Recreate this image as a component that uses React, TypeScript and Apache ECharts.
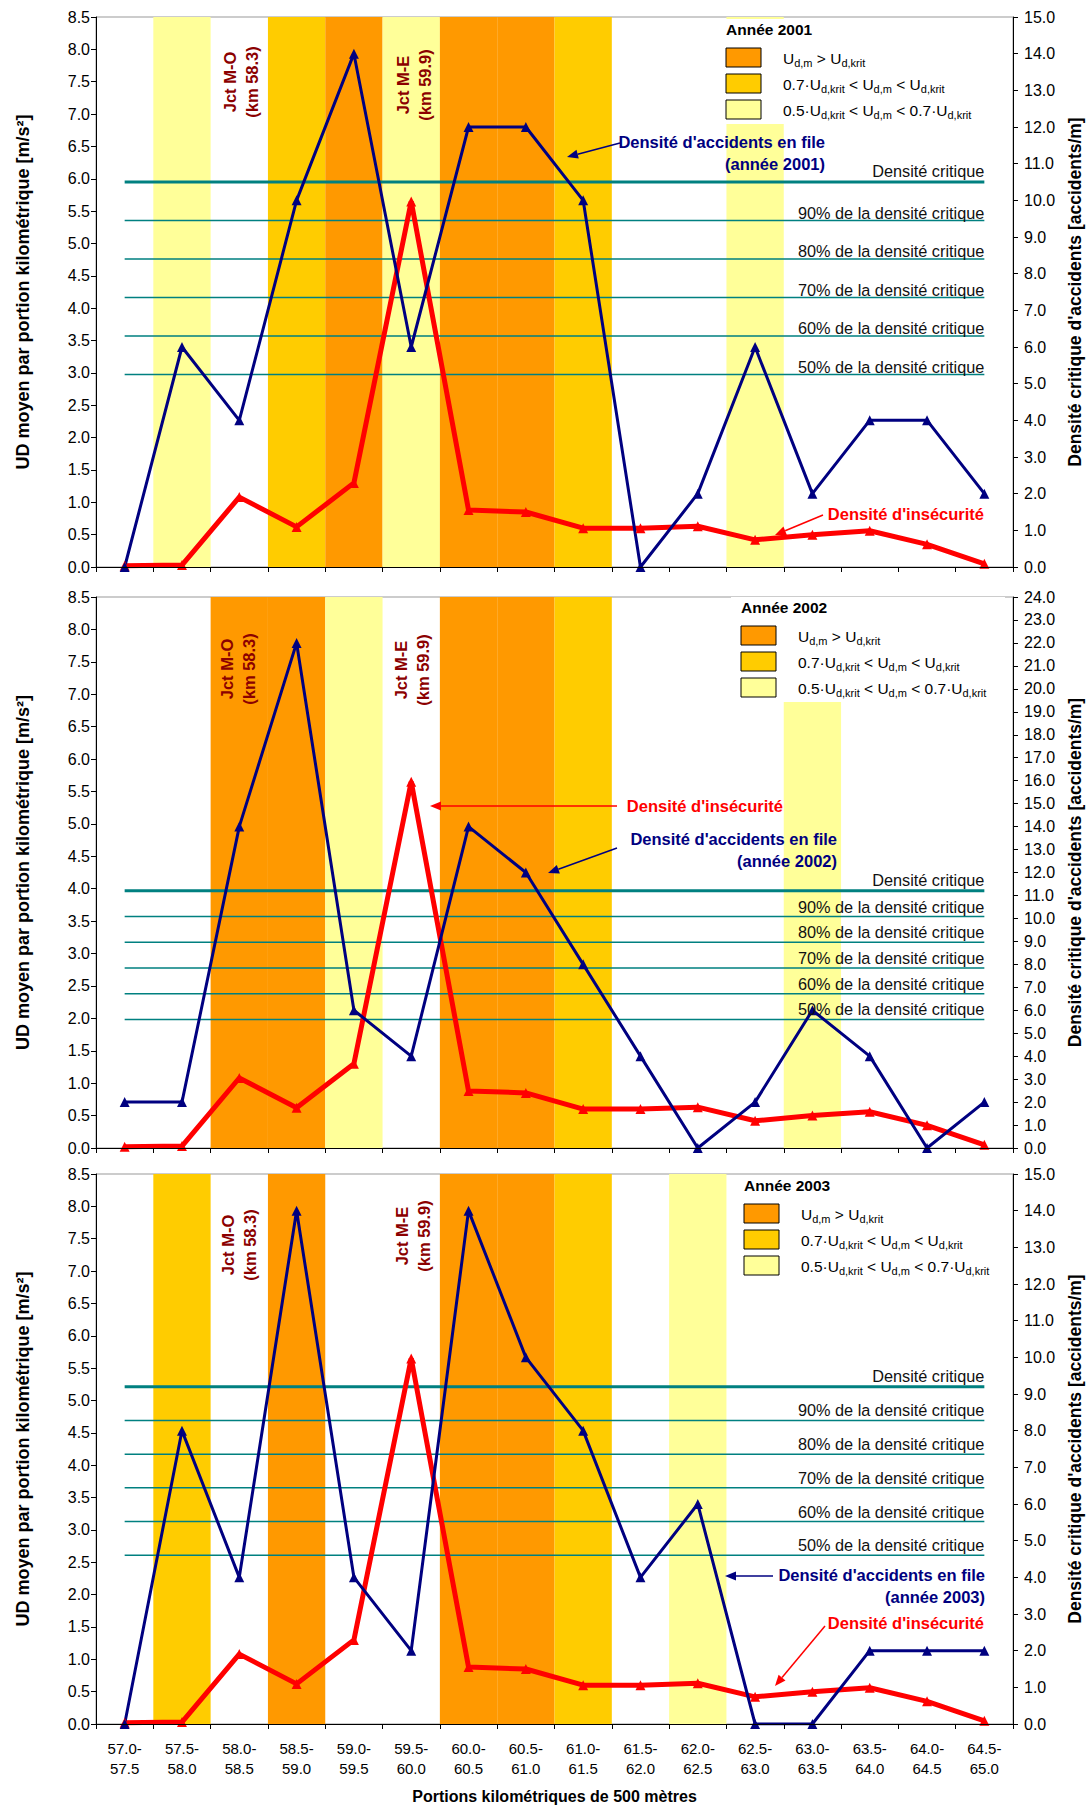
import React, { useEffect, useRef } from 'react';
import * as echarts from 'echarts';

const categories = [
  '57.0-\n57.5', '57.5-\n58.0', '58.0-\n58.5', '58.5-\n59.0', '59.0-\n59.5', '59.5-\n60.0',
  '60.0-\n60.5', '60.5-\n61.0', '61.0-\n61.5', '61.5-\n62.0', '62.0-\n62.5', '62.5-\n63.0',
  '63.0-\n63.5', '63.5-\n64.0', '64.0-\n64.5', '64.5-\n65.0',
];

// Densité d'insécurité (left axis, m/s²) — identical in the three panels
const insecurity = [0.02, 0.03, 1.08, 0.62, 1.3, 5.65, 0.88, 0.85, 0.6, 0.6, 0.63, 0.42, 0.5, 0.56, 0.35, 0.05];

// Densité d'accidents en file (right axis, accidents/m)
const accidents2001 = [0, 6, 4, 10, 14, 6, 12, 12, 10, 0, 2, 6, 2, 4, 4, 2];
const accidents2002 = [2, 2, 14, 22, 6, 4, 14, 12, 8, 4, 0, 2, 6, 4, 0, 2];
const accidents2003 = [0, 8, 4, 14, 4, 2, 14, 10, 8, 4, 6, 0, 0, 2, 2, 2];

// Band classes: H = Ud,m > Ud,krit ; M = 0.7..1 ; L = 0.5..0.7
const bands2001 = ['', 'L', '', 'M', 'H', 'L', 'H', 'H', 'M', '', '', 'L', '', '', '', ''];
const bands2002 = ['', '', 'H', 'H', 'L', '', 'H', 'H', 'M', '', '', '', 'L', '', '', ''];
const bands2003 = ['', 'M', '', 'H', '', '', 'H', 'H', 'M', '', 'L', '', '', '', '', ''];

const years = ['2001', '2002', '2003'];
const criticalDensity = [10.5, 11.2, 9.2];
const rightMax = [15, 24, 15];
const percentLevels = [0.9, 0.8, 0.7, 0.6, 0.5];
const leftMax = 8.5;

const accidents = [accidents2001, accidents2002, accidents2003];
const bands = [bands2001, bands2002, bands2003];

const bandColors: Record<string, string> = { H: '#FF9900', M: '#FFCC00', L: '#FFFF99' };
const FONT = "'Liberation Sans', Arial, Helvetica, sans-serif";
const NARROW = "'Liberation Sans Narrow', 'Arial Narrow', 'Liberation Sans', sans-serif";
const NAVY = '#000080';
const RED = '#FF0000';
const TEAL = '#008080';
const JCT = '#8B0000';

const gridTops = [17, 597, 1174];
const gridHeights = [550, 551, 550];

function buildOption() {
  const grid: any[] = [];
  const xAxis: any[] = [];
  const yAxis: any[] = [];
  const series: any[] = [];
  for (let p = 0; p < 3; p++) {
    grid.push({
      left: 96, right: 73, top: gridTops[p], height: gridHeights[p],
      show: true, borderColor: '#999', borderWidth: 1, backgroundColor: 'transparent',
      containLabel: false, outerBoundsMode: 'none',
    });
    const last = p === 2;
    xAxis.push({
      type: 'category', gridIndex: p, data: categories, boundaryGap: true, z: 5,
      axisLine: { show: true, lineStyle: { color: '#000', width: 1 } },
      axisTick: { show: true, length: 5, lineStyle: { color: '#000' } },
      axisLabel: last
        ? { show: true, interval: 0, color: '#000', fontSize: 15, fontFamily: NARROW, lineHeight: 20, margin: 14 }
        : { show: false },
      splitLine: { show: false },
      name: last ? 'Portions kilométriques de 500 mètres' : '',
      nameLocation: 'middle', nameGap: 64, nameMoveOverlap: false,
      nameTextStyle: { fontSize: 16, fontWeight: 'bold', color: '#000', fontFamily: NARROW },
    });
    yAxis.push({
      type: 'value', gridIndex: p, min: 0, max: leftMax, interval: 0.5, position: 'left', z: 5,
      axisLine: { show: true, lineStyle: { color: '#000' } },
      axisTick: { show: true, length: 5, lineStyle: { color: '#000' } },
      axisLabel: { formatter: (v: number) => v.toFixed(1), fontSize: 16, color: '#000', margin: 6, fontFamily: FONT },
      splitLine: { show: false },
      name: 'UD moyen par portion kilométrique [m/s²]', nameLocation: 'middle', nameGap: 64, nameRotate: 90,
      nameMoveOverlap: false,
      nameTextStyle: { fontSize: 18, fontWeight: 'bold', color: '#000', fontFamily: FONT },
    });
    yAxis.push({
      type: 'value', gridIndex: p, min: 0, max: rightMax[p], interval: 1, position: 'right', z: 5,
      axisLine: { show: true, lineStyle: { color: '#000' } },
      axisTick: { show: true, length: 5, lineStyle: { color: '#000' } },
      axisLabel: { formatter: (v: number) => v.toFixed(1), fontSize: 16, color: '#000', margin: 11, fontFamily: FONT },
      splitLine: { show: false },
      name: "Densité critique d'accidents [accidents/m]", nameLocation: 'middle', nameGap: 53, nameRotate: 90,
      nameMoveOverlap: false,
      nameTextStyle: { fontSize: 17.5, fontWeight: 'bold', color: '#000', fontFamily: FONT },
    });

    // background bands
    series.push({
      type: 'bar', xAxisIndex: p, yAxisIndex: 2 * p, barCategoryGap: '0%', silent: true,
      data: bands[p].map((b) => (b ? { value: leftMax, itemStyle: { color: bandColors[b] } } : '-')),
    });
    // reference lines
    [1, ...percentLevels].forEach((lvl) => {
      series.push({
        type: 'line', xAxisIndex: p, yAxisIndex: 2 * p + 1, symbol: 'none', silent: true,
        lineStyle: { color: TEAL, width: lvl === 1 ? 3 : 1.5 },
        data: categories.map(() => criticalDensity[p] * lvl),
      });
    });
    // insecurity density
    series.push({
      type: 'line', xAxisIndex: p, yAxisIndex: 2 * p, symbol: 'triangle', symbolSize: 10,
      lineStyle: { color: RED, width: 5 }, itemStyle: { color: RED }, data: insecurity,
    });
    // accident density
    series.push({
      type: 'line', xAxisIndex: p, yAxisIndex: 2 * p + 1, symbol: 'triangle', symbolSize: 10,
      lineStyle: { color: NAVY, width: 3 }, itemStyle: { color: NAVY }, data: accidents[p],
    });
  }
  return { animation: false, backgroundColor: '#fff', grid, xAxis, yAxis, series };
}

function arrow(x1: number, y1: number, x2: number, y2: number, color: string) {
  const dx = x2 - x1, dy = y2 - y1;
  const L = Math.hypot(dx, dy);
  const ux = dx / L, uy = dy / L;
  const hl = 11, hw = 4.5;
  const bx = x2 - ux * hl, by = y2 - uy * hl;
  return [
    { type: 'line', z: 50, shape: { x1, y1, x2: bx, y2: by }, style: { stroke: color, lineWidth: 1.5 } },
    {
      type: 'polygon', z: 50,
      shape: { points: [[x2, y2], [bx - uy * hw, by + ux * hw], [bx + uy * hw, by - ux * hw]] },
      style: { fill: color },
    },
  ];
}

const legendTexts = [
  '{n|U}{s|d,m}{n| > U}{s|d,krit}',
  '{n|0.7·U}{s|d,krit}{n| < U}{s|d,m}{n| < U}{s|d,krit}',
  '{n|0.5·U}{s|d,krit}{n| < U}{s|d,m}{n| < 0.7·U}{s|d,krit}',
];
const legendKeys = ['H', 'M', 'L'];
const legendOrigins = [[726, 29], [741, 607], [744, 1185]];

function legend(p: number) {
  const [ox, oy] = legendOrigins[p];
  const els: any[] = [
    { type: 'rect', z: 40, shape: { x: ox - 10, y: oy - 10, width: 1005 - (ox - 10), height: 105 }, style: { fill: '#fff' } },
    {
      type: 'text', z: 41, x: ox, y: oy,
      style: { text: 'Année ' + years[p], fontSize: 15.5, fontWeight: 'bold', fontFamily: FONT, fill: '#000', verticalAlign: 'middle' },
    },
  ];
  legendKeys.forEach((k, i) => {
    const sy = oy + 19 + i * 26;
    els.push({
      type: 'rect', z: 41, shape: { x: ox, y: sy, width: 35, height: 19 },
      style: { fill: bandColors[k], stroke: '#000', lineWidth: 1 },
    });
    els.push({
      type: 'text', z: 41, x: ox + 57, y: sy + 10,
      style: {
        text: legendTexts[i], verticalAlign: 'middle', fill: '#000',
        rich: {
          n: { fontSize: 15.5, fontFamily: FONT, lineHeight: 20, fill: '#000' },
          s: { fontSize: 11, fontFamily: FONT, lineHeight: 12, verticalAlign: 'bottom', fill: '#000' },
        },
      },
    });
  });
  return els;
}

function jct(x: number, y: number, txt: string) {
  return {
    type: 'text', z: 45, x, y, rotation: Math.PI / 2,
    style: {
      text: txt, fontSize: 16.5, fontWeight: 'bold', fontFamily: FONT, fill: JCT,
      align: 'center', verticalAlign: 'middle', lineHeight: 22,
    },
  };
}

function note(x: number, y: number, txt: string, color: string) {
  return {
    type: 'text', z: 50, x, y,
    style: {
      text: txt, fontSize: 16.5, fontWeight: 'bold', fontFamily: FONT, fill: color,
      align: 'right', verticalAlign: 'middle', lineHeight: 22,
    },
  };
}

function buildGraphics(chart: any) {
  const els: any[] = [];
  for (let p = 0; p < 3; p++) {
    els.push(...legend(p));
    [1, ...percentLevels].forEach((lvl) => {
      const [px, py] = chart.convertToPixel({ xAxisIndex: p, yAxisIndex: 2 * p + 1 }, [categories.length - 1, criticalDensity[p] * lvl]);
      const off = lvl === 1 ? 11 : p === 0 ? 8 : 10;
      els.push({
        type: 'text', z: 45, x: px, y: py - off,
        style: {
          text: lvl === 1 ? 'Densité critique' : `${Math.round(lvl * 100)}% de la densité critique`,
          fontSize: 16.3, fontFamily: FONT, fill: '#111', align: 'right', verticalAlign: 'middle',
        },
      });
    });
  }
  // Junction labels
  els.push(jct(241, 82, 'Jct M-O\n(km 58.3)'), jct(414, 85, 'Jct M-E\n(km 59.9)'));
  els.push(jct(238, 669, 'Jct M-O\n(km 58.3)'), jct(412, 670, 'Jct M-E\n(km 59.9)'));
  els.push(jct(239, 1245, 'Jct M-O\n(km 58.3)'), jct(413, 1236, 'Jct M-E\n(km 59.9)'));

  // Panel 1 notes
  els.push(note(825, 153, "Densité d'accidents en file\n(année 2001)", NAVY));
  els.push(...arrow(620, 143, 567, 157, NAVY));
  els.push(note(984, 514, "Densité d'insécurité", RED));
  els.push(...arrow(823, 515, 775, 535, RED));
  // Panel 2 notes
  els.push(note(783, 806, "Densité d'insécurité", RED));
  els.push(...arrow(617, 806, 430, 806, RED));
  els.push(note(837, 850, "Densité d'accidents en file\n(année 2002)", NAVY));
  els.push(...arrow(617, 848, 548, 873, NAVY));
  // Panel 3 notes
  els.push(note(985, 1586, "Densité d'accidents en file\n(année 2003)", NAVY));
  els.push(...arrow(773, 1576, 725, 1576, NAVY));
  els.push(note(984, 1623, "Densité d'insécurité", RED));
  els.push(...arrow(825, 1626, 775, 1686, RED));
  return els;
}

export default function App() {
  const ref = useRef<HTMLDivElement>(null);
  useEffect(() => {
    const chart = echarts.init(ref.current as HTMLDivElement, null, { renderer: 'svg' });
    chart.setOption(buildOption() as any);
    chart.setOption({ graphic: { elements: buildGraphics(chart) } } as any);
    return () => chart.dispose();
  }, []);
  return <div ref={ref} style={{ position: 'absolute', left: 0, top: 0, width: 1086, height: 1807, background: '#fff' }} />;
}
